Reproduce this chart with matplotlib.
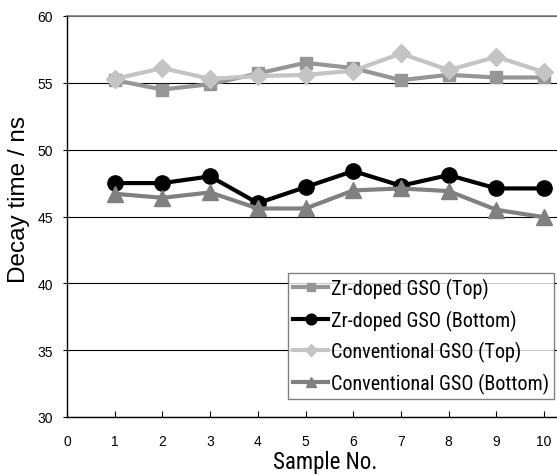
import matplotlib.pyplot as plt

narrow = ['Roboto Condensed', 'Liberation Sans', 'DejaVu Sans']
regular = ['Liberation Sans', 'DejaVu Sans']
plt.rcParams['font.family'] = narrow

samples = [1, 2, 3, 4, 5, 6, 7, 8, 9, 10]
zr_top = [55.2, 54.5, 54.9, 55.7, 56.5, 56.1, 55.2, 55.6, 55.4, 55.4]
zr_bottom = [47.5, 47.5, 48.0, 46.0, 47.2, 48.4, 47.3, 48.1, 47.1, 47.1]
conv_top = [55.3, 56.1, 55.3, 55.5, 55.6, 55.9, 57.2, 55.95, 56.95, 55.8]
conv_bottom = [46.7, 46.4, 46.8, 45.6, 45.6, 46.95, 47.1, 46.9, 45.5, 44.95]
labels = ['Zr-doped GSO (Top)', 'Zr-doped GSO (Bottom)',
          'Conventional GSO (Top)', 'Conventional GSO (Bottom)']

W, H = 557, 477
fig = plt.figure(figsize=(W / 100, H / 100), dpi=100)
ax = fig.add_axes([67 / W, 1 - 418 / H, 1 - 67 / W, (418 - 17) / H])

ax.set_xlim(0, 10.27)
ax.set_ylim(30, 60)
ax.set_yticks(range(30, 61, 5))
ax.set_xticks(range(0, 11))
ax.yaxis.grid(True, color='black', linewidth=0.8)
ax.axhline(60, color='#808080', linewidth=1.2, clip_on=False, zorder=1)
ax.set_axisbelow(True)
for s in ['top', 'right']:
    ax.spines[s].set_visible(False)
ax.spines['left'].set_linewidth(1.0)
ax.spines['bottom'].set_linewidth(1.0)
ax.tick_params(axis='y', direction='out', length=3, labelsize=10, pad=7)
ax.tick_params(axis='x', direction='in', length=4, labelsize=10, pad=12)
for lab in ax.get_xticklabels() + ax.get_yticklabels():
    lab.set_family(regular)

lw = 3
ax.plot(samples, zr_top, color='#969696', marker='s', markersize=9, linewidth=lw, label=labels[0])
ax.plot(samples, zr_bottom, color='black', marker='o', markersize=11, linewidth=lw, label=labels[1])
ax.plot(samples, conv_top, color='#c4c4c4', marker='D', markersize=9, linewidth=lw, label=labels[2])
ax.plot(samples, conv_bottom, color='#808080', marker='^', markersize=11, linewidth=lw, label=labels[3])

fig.text(325 / W, 1 - 463 / H, 'Sample No.', fontsize=16.5, ha='center', va='center')
fig.text(19 / W, 1 - 200 / H, 'Decay time / ns', fontsize=17.5, rotation=90,
         ha='center', va='center', family=regular)

leg = ax.legend(loc='upper left', bbox_to_anchor=(288 / W, 1 - 274 / H),
                bbox_transform=fig.transFigure, fontsize=14.5, frameon=True,
                fancybox=False, edgecolor='#606060', handlelength=1.75,
                handletextpad=0.12, borderpad=0.25, labelspacing=0.52,
                borderaxespad=0, markerscale=0.7)
leg.get_frame().set_linewidth(1.0)

fig.savefig('out.png', dpi=100)
